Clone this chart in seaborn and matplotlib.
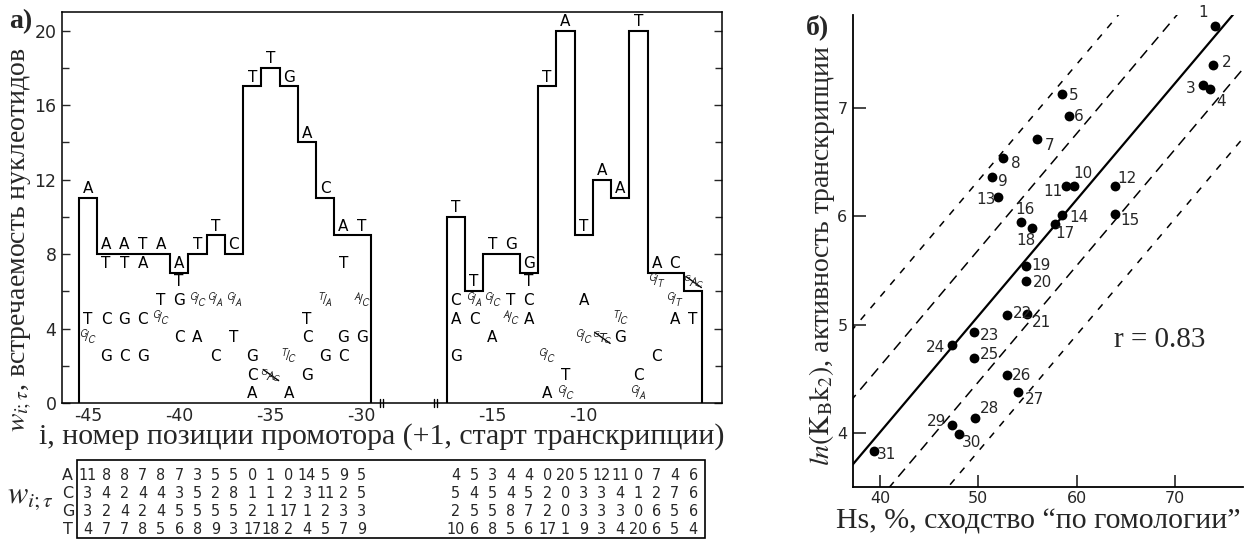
import numpy as np
import matplotlib
matplotlib.use("Agg")
import matplotlib.pyplot as plt
from matplotlib.patches import Rectangle
import seaborn as sns

# ---------------- panel a: nucleotide counts per promoter position ----------
POS_UP = list(range(-45, -29))            # -35 region block
A_UP = [11, 8, 8, 7, 8, 7, 3, 5, 5, 0, 1, 0, 14, 5, 9, 5]
C_UP = [3, 4, 2, 4, 4, 3, 5, 2, 8, 1, 1, 2, 3, 11, 2, 5]
G_UP = [3, 2, 4, 2, 4, 5, 5, 5, 5, 2, 1, 17, 1, 2, 3, 3]
T_UP = [4, 7, 7, 8, 5, 6, 8, 9, 3, 17, 18, 2, 4, 5, 7, 9]

POS_DN = list(range(-17, -3))             # -10 region block
A_DN = [4, 5, 3, 4, 4, 0, 20, 5, 12, 11, 0, 7, 4, 6]
C_DN = [5, 4, 5, 4, 5, 2, 0, 3, 3, 4, 1, 2, 7, 6]
G_DN = [2, 5, 5, 8, 7, 2, 0, 3, 3, 3, 0, 6, 5, 6]
T_DN = [10, 6, 8, 5, 6, 17, 1, 9, 3, 4, 20, 6, 5, 4]

X_TICKS = [-45, -40, -35, -30, -15, -10]
Y_TICKS_A = [0, 4, 8, 12, 16, 20]

# ---------------- panel b: promoter activity vs homology score --------------
PROMOTER_ID = list(range(1, 32))
HS = [74.1, 73.9, 72.9, 73.6, 58.5, 59.2, 56.0, 52.5, 51.4, 59.7,
      58.9, 63.9, 52.0, 58.5, 63.9, 54.3, 57.8, 55.5, 54.9, 54.9,
      55.0, 52.9, 49.6, 47.3, 49.6, 52.9, 54.0, 49.7, 47.3, 48.0, 39.4]
LN_ACT = [7.76, 7.40, 7.21, 7.18, 7.13, 6.93, 6.71, 6.54, 6.36, 6.28,
          6.28, 6.28, 6.18, 6.01, 6.02, 5.95, 5.93, 5.89, 5.54, 5.40,
          5.10, 5.09, 4.93, 4.81, 4.69, 4.53, 4.38, 4.14, 4.07, 3.99, 3.83]
FIT_SLOPE = 0.1074
FIT_INTERCEPT = -0.29
BAND_OFFSETS = [0.61, 1.25]
R_VALUE = 0.83
X_TICKS_B = [40, 50, 60, 70]
Y_TICKS_B = [4, 5, 6, 7]

# label offsets for the numbered points (pixels)
LABEL_OFFSETS = [(-12, 13), (13, 2), (-13, -3), (11, -13), (12, -1), (10, -1),
                 (12, -6), (13, -6), (11, -4), (9, 13), (-13, -5), (12, 8),
                 (-12, -3), (17, -2), (15, -6), (4, 12), (10, -10), (-6, -12),
                 (15, 1), (16, -1), (14, -9), (16, 1), (15, -3), (-16, -2),
                 (15, 4), (15, 0), (17, -8), (14, 9), (-15, 4), (13, -9),
                 (12, -3)]

# ---------------- styling ----------------------------------------------------
sns.set_style("ticks")
plt.rcParams["font.family"] = ["DejaVu Sans"]
plt.rcParams["mathtext.fontset"] = "stix"
plt.rcParams["lines.scale_dashes"] = False
SERIF = ["Liberation Serif", "DejaVu Serif"]
W, H = 1257, 542

fig = plt.figure(figsize=(W / 100, H / 100), dpi=100)
fig.patch.set_facecolor("white")


def frac(x0, y_top, x1, y_bot):
    return [x0 / W, 1 - y_bot / H, (x1 - x0) / W, (y_bot - y_top) / H]


# slot index along the broken x axis
DN_START = 20.16
slot_up = np.array(POS_UP) + 45.0
slot_dn = np.array(POS_DN) - POS_DN[0] + DN_START


def to_slot(p):
    return p + 45.0 if POS_UP[0] <= p <= POS_UP[-1] else p - POS_DN[0] + DN_START


# ---------------- panel a ----------------------------------------------------
ax1 = fig.add_axes(frac(62, 12, 722, 403))
ax1.set_xlim(-1.42, 34.74)
ax1.set_ylim(0, 21.0)
for s in ax1.spines.values():
    s.set_linewidth(1.1)
    s.set_color("black")

up = {"A": A_UP, "C": C_UP, "G": G_UP, "T": T_UP}
dn = {"A": A_DN, "C": C_DN, "G": G_DN, "T": T_DN}
h_up = np.max(np.array([A_UP, C_UP, G_UP, T_UP]), axis=0)
h_dn = np.max(np.array([A_DN, C_DN, G_DN, T_DN]), axis=0)

ax1.stairs(h_up, np.append(slot_up - 0.5, slot_up[-1] + 0.5), baseline=0,
           fill=False, color="black", lw=1.5)
ax1.stairs(h_dn, np.append(slot_dn - 0.5, slot_dn[-1] + 0.5), baseline=0,
           fill=False, color="black", lw=1.5)

TIE_PRIORITY = "GTAC"
LET_KW = dict(ha="center", va="center", fontsize=11, color="black")


def sf(b):
    return r"\mathsf{" + b + "}"


def draw_letters(slots, counts):
    for j, x in enumerate(slots):
        col = {b: counts[b][j] for b in "ACGT"}
        for v in sorted(set(col.values()), reverse=True):
            bases = [b for b in TIE_PRIORITY if col[b] == v]
            y = v + 0.5
            if len(bases) == 1:
                ax1.text(x, y, bases[0], **LET_KW)
            elif len(bases) == 2:
                tie = "${}^{%s}\\!/\\!{}_{%s}$" % (sf(bases[0]), sf(bases[1]))
                ax1.text(x, y, tie, ha="center", va="center", fontsize=10)
            else:
                tie = "${}^{%s}\\!%s\\!{}_{%s}$" % (sf(bases[0]), sf(bases[1]), sf(bases[2]))
                ax1.text(x, y, tie, ha="center", va="center", fontsize=9)
                ax1.plot([x - 0.4, x + 0.45], [y + 0.3, y - 0.3], color="black", lw=1.0)


draw_letters(slot_up, up)
draw_letters(slot_dn, dn)

ax1.set_xticks([to_slot(t) for t in X_TICKS])
ax1.set_xticklabels([f"{t}" for t in X_TICKS])
ax1.tick_params(axis="x", length=0, pad=3, labelsize=12.5)
ax1.set_yticks(Y_TICKS_A)
ax1.set_yticks(np.arange(2, 21, 4), minor=True)
ax1.tick_params(axis="y", which="both", direction="in", left=True, right=True,
                labelsize=12.5, pad=4, width=1.0)
ax1.tick_params(axis="y", which="major", length=6)
ax1.tick_params(axis="y", which="minor", length=5)

# axis break marks between the two blocks
btr = ax1.get_xaxis_transform()
for xb in (16.1, 19.05):
    for dx in (-0.09, 0.09):
        ax1.plot([xb + dx, xb + dx], [-0.011, 0.011], transform=btr, color="black",
                 lw=1.0, clip_on=False)

# count table under the histogram
axt = fig.add_axes(frac(62, 455, 722, 542))
axt.set_xlim(ax1.get_xlim())
axt.set_ylim(0, 87)
axt.axis("off")
axt.add_patch(Rectangle((-0.6, 4), 34.4, 78, fill=False, lw=1.2, ec="black"))
row_y = {"A": 67, "C": 49, "G": 30, "T": 12}
for b, yy in row_y.items():
    axt.text(-1.1, yy, b, ha="center", va="center", fontsize=11.5)
    for x, v in zip(slot_up, up[b]):
        axt.text(x, yy, str(v), ha="center", va="center", fontsize=11.5,
                 fontstretch="condensed")
    for x, v in zip(slot_dn, dn[b]):
        axt.text(x, yy, str(v), ha="center", va="center", fontsize=11.5,
                 fontstretch="condensed")

fig.text(30 / W, 1 - 497 / H, r"$w_{i;\tau}$", ha="center", va="center",
         fontsize=22)
fig.text(22 / W, 1 - 240 / H, r"$w_{i;\tau}$, встречаемость нуклеотидов",
         rotation=90, ha="center", va="center", fontsize=20, family=SERIF)
fig.text(382 / W, 1 - 437 / H, "i, номер позиции промотора (+1, старт транскрипции)",
         ha="center", va="center", fontsize=21.5, family=SERIF)
fig.text(9 / W, 1 - 22 / H, "а)", ha="left", va="center", fontsize=20,
         fontweight="bold", family=SERIF)

# ---------------- panel b ----------------------------------------------------
ax2 = fig.add_axes(frac(853, 15, 1243, 487))
ax2.set_xlim(37.25, 76.93)
ax2.set_ylim(3.5, 7.86)
sns.despine(ax=ax2)
for s in ("left", "bottom"):
    ax2.spines[s].set_linewidth(1.3)
    ax2.spines[s].set_color("black")

xl = np.array([30.0, 85.0])
sns.lineplot(x=xl, y=FIT_INTERCEPT + FIT_SLOPE * xl, ax=ax2, color="black", lw=1.6)
for off, dash in zip(BAND_OFFSETS, [(7.5, 5.0), (5.0, 6.0)]):
    for sign in (1, -1):
        ax2.plot(xl, FIT_INTERCEPT + FIT_SLOPE * xl + sign * off, color="black",
                 lw=1.1, dashes=dash)

sns.scatterplot(x=HS, y=LN_ACT, ax=ax2, color="black", s=50, linewidth=0, zorder=3)
for pid, x, y, (dx, dy) in zip(PROMOTER_ID, HS, LN_ACT, LABEL_OFFSETS):
    ax2.annotate(str(pid), (x, y), xytext=(dx, dy), textcoords="offset pixels",
                 ha="center", va="center", fontsize=11)

ax2.text(68.5, 4.86, f"r = {R_VALUE}", ha="center", va="center", fontsize=21,
         family=SERIF)

ax2.set_xticks(X_TICKS_B)
ax2.set_yticks(Y_TICKS_B)
ax2.tick_params(direction="in", length=9, width=1.2, labelsize=11.5)
ax2.tick_params(axis="x", pad=3)
ax2.tick_params(axis="y", pad=4)
ax2.set_xlabel("")
ax2.set_ylabel("")

fig.text(1038 / W, 1 - 522 / H, "Hs, %, сходство “по гомологии”", ha="center",
         va="center", fontsize=21.5, family=SERIF)
fig.text(822 / W, 1 - 256 / H,
         r"$\mathit{ln}(\mathrm{K}_\mathrm{B}\mathrm{k}_2)$, активность транскрипции",
         rotation=90, ha="center", va="center", fontsize=20, family=SERIF)
fig.text(806 / W, 1 - 27 / H, "б)", ha="left", va="center", fontsize=20,
         fontweight="bold", family=SERIF)

fig.savefig("out.png", dpi=100, facecolor="white")
